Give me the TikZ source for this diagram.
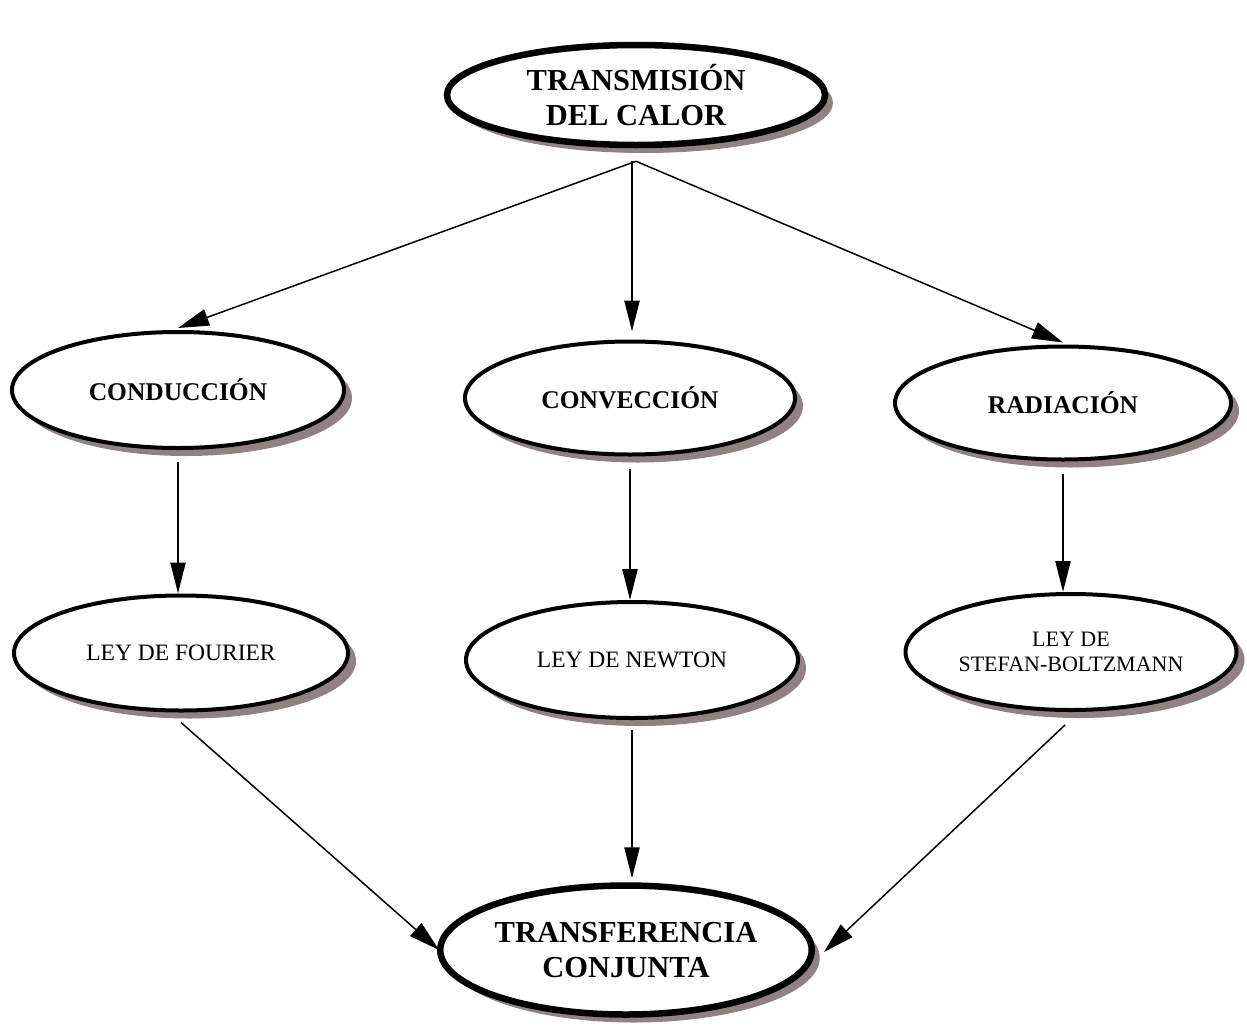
\documentclass[tikz,border=0pt]{standalone}
\usepackage{fontspec}
\setmainfont{Liberation Serif}
\usetikzlibrary{shapes.geometric,arrows.meta,shadows}
\definecolor{shgray}{RGB}{142,130,130}
\tikzset{
  oval/.style={ellipse, draw=black, fill=white, line width=4pt, inner sep=0pt, align=center,
    drop shadow={shadow xshift=8pt, shadow yshift=-8pt, fill=shgray, opacity=1}},
  bigoval/.style={oval, line width=6.5pt, font=\fontsize{30.5}{35}\selectfont\bfseries},
  midoval/.style={oval, font=\fontsize{25.5}{28}\selectfont\bfseries},
  lawoval/.style={oval, font=\fontsize{23.5}{25}\selectfont},
  conn/.style={line width=2.4pt, -{Triangle[length=31pt,width=15pt]}},
  diag/.style={line width=1.5pt, -{Triangle[length=31pt,width=17pt]}}
}
\begin{document}
\begin{tikzpicture}[x=1pt,y=-1pt]
\useasboundingbox (0,0) rectangle (1247,1028);
\node[bigoval, minimum width=378pt, minimum height=100pt] (top) at (636,95) {TRANSMISIÓN\\DEL CALOR};
\node[midoval, minimum width=332pt, minimum height=116pt] (cond) at (178,390) {CONDUCCIÓN};
\node[midoval, minimum width=330pt, minimum height=113pt] (conv) at (630,398) {CONVECCIÓN};
\node[midoval, minimum width=336pt, minimum height=113pt] (rad) at (1063,403) {RADIACIÓN};
\node[lawoval, minimum width=334pt, minimum height=115pt] (four) at (181,653) {LEY DE FOURIER};
\node[lawoval, minimum width=332pt, minimum height=116pt] (newt) at (632,660) {LEY DE NEWTON};
\node[lawoval, minimum width=331pt, minimum height=116pt, font=\fontsize{22}{25}\selectfont] (stef) at (1071,652) {LEY DE\\STEFAN-BOLTZMANN};
\node[bigoval, minimum width=369pt, minimum height=129pt] (transf) at (626,950) {TRANSFERENCIA\\CONJUNTA};

\coordinate (ts) at ([yshift=-13pt]top.south);
\draw[diag] (ts) -- ([yshift=2pt]cond.north);
\draw[conn] ([xshift=-4pt]ts) -- ([xshift=-4pt,yshift=8pt]ts |- conv.north);
\draw[diag] (ts) -- ([yshift=2pt]rad.north);

\draw[conn] ([yshift=-12pt]cond.south) -- (cond.south |- four.north);
\draw[conn] ([yshift=-12pt]conv.south) -- (conv.south |- newt.north);
\draw[conn] ([yshift=-12pt]rad.south) -- (rad.south |- stef.north);

\draw[diag] ([yshift=-10pt]four.south) -- ([xshift=2pt]transf.west);
\draw[conn] ([yshift=-10pt]newt.south) -- ([yshift=4pt]newt.south |- transf.north);
\draw[diag] ([xshift=-6pt,yshift=-13pt]stef.south) -- ([xshift=9pt,yshift=-2pt]transf.east);
\end{tikzpicture}
\end{document}
